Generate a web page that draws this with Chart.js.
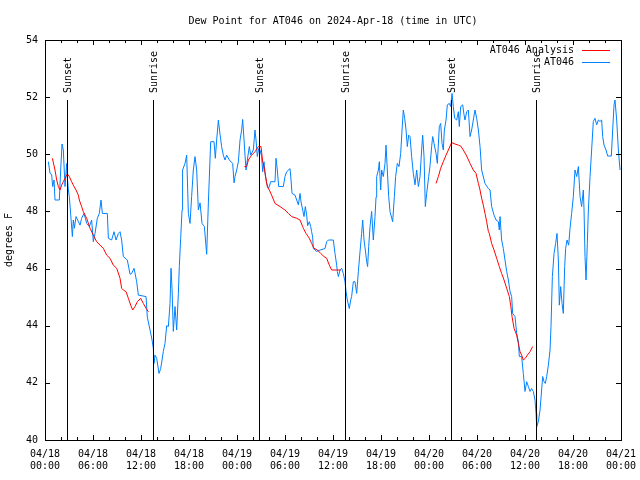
<!DOCTYPE html>
<html><head><meta charset="utf-8">
<script src="https://cdn.jsdelivr.net/npm/chart.js@4/dist/chart.umd.min.js"></script>
<style>html,body{margin:0;padding:0;background:#fff}#wrap{width:640px;height:480px}</style>
</head><body><div id="wrap"><canvas id="c" width="640" height="480"></canvas></div>
<script>
const FONT = "'DejaVu Sans Mono', 'Liberation Mono', monospace";
const chartTitle = 'Dew Point for AT046 on 2024-Apr-18 (time in UTC)';
const yAxisTitle = 'degrees F';
const seriesNames = ['AT046 Analysis', 'AT046'];
const xTickDates = ['04/18','04/18','04/18','04/18','04/19','04/19','04/19','04/19','04/20','04/20','04/20','04/20','04/21'];
const xTickTimes = ['00:00','06:00','12:00','18:00','00:00','06:00','12:00','18:00','00:00','06:00','12:00','18:00','00:00'];
const yMin = 40, yMax = 54, yStep = 2;
const sunHours = [2.8, 13.5, 26.8, 37.5, 50.8, 61.4];
const sunLabels = ['Sunset','Sunrise','Sunset','Sunrise','Sunset','Sunrise'];

// hours since 04/18 00:00 UTC
const obsHours = [0.42,0.63,0.83,0.96,1.13,1.25,1.79,1.96,2.13,2.29,2.5,2.71,2.79,2.92,3.04,3.21,3.42,3.54,3.67,3.88,4.17,4.38,4.58,4.88,5.21,5.54,5.83,6.04,6.25,6.54,6.79,7.0,7.17,7.79,7.92,8.33,8.63,8.88,9.17,9.38,9.58,9.79,10.29,10.63,10.83,11.13,11.46,11.67,12.63,12.79,13.13,13.38,13.54,13.63,13.75,13.96,14.25,14.46,14.63,14.79,15.0,15.21,15.42,15.63,15.75,15.88,16.04,16.25,16.46,16.67,16.79,16.96,17.13,17.2,17.5,17.71,17.92,18.13,18.33,18.54,18.75,18.96,19.17,19.38,19.63,19.92,20.21,20.42,20.71,21.13,21.29,21.46,21.67,21.88,22.08,22.29,22.5,22.71,23.04,23.46,23.63,23.75,23.96,24.17,24.38,24.58,24.71,24.88,25.0,25.13,25.29,25.54,25.71,26.04,26.25,26.38,26.54,26.71,26.88,27.08,27.21,27.38,27.5,27.71,27.92,28.04,28.21,28.75,28.88,29.04,29.21,29.79,30.0,30.21,30.63,30.75,30.88,31.25,31.46,31.67,31.88,32.0,32.21,32.38,32.54,32.71,32.83,33.04,33.21,33.33,33.46,33.54,33.96,34.38,35.0,35.21,35.42,36.04,36.25,36.46,36.54,36.67,36.88,37.08,37.29,37.5,37.63,37.79,38.04,38.21,38.33,38.54,38.75,38.96,39.17,39.38,39.58,39.71,39.88,40.04,40.21,40.33,40.46,40.63,40.83,41.04,41.25,41.38,41.46,41.67,41.79,41.96,42.08,42.29,42.5,42.63,42.79,42.96,43.13,43.46,43.67,43.83,44.04,44.25,44.46,44.63,44.79,44.96,45.13,45.29,45.46,45.63,45.83,46.04,46.25,46.46,46.67,46.88,47.08,47.21,47.38,47.54,47.71,47.96,48.13,48.33,48.46,48.63,48.88,49.04,49.29,49.46,49.63,49.79,49.92,50.13,50.29,50.54,50.71,50.88,51.04,51.21,51.46,51.67,51.79,51.96,52.21,52.38,52.5,52.71,52.92,53.13,53.33,53.54,53.75,53.96,54.17,54.38,54.58,55.0,55.42,55.63,55.83,56.13,56.38,56.67,56.79,56.88,57.08,57.29,57.5,57.71,57.92,58.13,58.33,58.46,58.75,58.96,59.17,59.29,59.58,59.79,60.0,60.21,60.42,60.63,60.83,61.04,61.25,61.38,61.46,61.67,61.88,62.08,62.21,62.38,62.54,62.71,62.92,63.13,63.25,63.42,63.63,63.83,64.0,64.17,64.29,64.46,64.63,64.79,64.96,65.08,65.25,65.46,65.63,65.83,66.04,66.25,66.46,66.67,66.88,67.08,67.29,67.38,67.5,67.63,67.79,67.92,68.13,68.33,68.54,68.75,68.96,69.17,69.38,69.58,69.71,69.88,70.13,70.33,70.79,70.96,71.13,71.25,71.46,71.67,71.88];
const obsValues = [49.74,49.33,49.3,48.87,49.1,48.4,48.4,49.45,50.36,50.15,48.87,49.68,49.2,48.75,48.52,47.9,47.12,47.7,47.41,47.82,47.64,47.52,47.76,47.93,47.58,47.47,47.7,46.94,47.23,47.76,47.93,48.4,47.93,47.93,47.06,47.0,47.29,47.0,47.23,47.29,47.0,46.42,46.3,45.8,45.83,46.01,45.54,45.07,45.02,44.3,43.85,43.5,43.21,42.68,42.97,42.86,42.33,42.5,42.8,43.1,43.38,44.0,43.97,44.78,46.01,45.3,43.8,44.67,43.85,45.13,46.07,47.06,48.05,49.45,49.68,49.97,47.93,47.58,48.52,49.45,49.92,49.45,48.05,48.3,47.58,47.47,46.5,48.3,50.44,50.44,49.86,50.5,51.2,50.7,50.27,49.97,49.8,49.97,49.8,49.68,49.0,49.22,49.45,49.74,50.5,50.85,51.22,50.5,49.97,49.45,49.8,50.27,49.97,50.15,50.85,50.5,49.92,50.2,50.15,49.92,49.39,49.74,49.33,48.98,48.8,48.87,49.04,49.04,49.86,49.45,48.87,48.87,49.22,49.39,49.5,49.1,48.63,48.57,48.4,48.23,48.63,48.34,48.05,47.82,48.17,47.87,47.5,47.64,47.47,47.29,47.1,46.7,46.6,46.65,46.7,46.94,47.0,47.0,46.53,46.12,45.9,45.72,45.95,46.01,45.83,45.54,45.2,44.9,44.6,44.9,45.02,45.54,45.54,45.13,45.9,46.6,47.23,47.7,47.0,46.65,46.24,46.07,46.77,47.47,48.0,47.0,47.82,48.5,49.22,49.45,49.74,48.75,49.45,49.22,49.68,50.32,49.45,48.52,47.99,47.64,48.52,49.22,49.68,49.57,50.03,50.85,51.55,51.26,50.85,50.27,50.67,50.62,49.92,49.33,48.93,49.45,48.87,49.22,50.15,50.67,49.92,48.17,48.63,49.22,49.6,50.27,50.62,50.38,50.03,49.68,50.97,51.08,50.38,50.15,50.85,51.2,51.73,51.78,51.67,52.13,51.67,51.26,51.2,51.49,50.97,51.67,51.73,51.38,51.2,51.49,51.55,50.62,50.85,51.2,51.55,51.26,50.85,50.27,49.45,48.98,48.8,48.75,48.17,47.87,47.7,47.64,47.35,47.82,47.0,46.7,46.3,45.9,45.6,45.2,45.02,44.43,44.32,43.73,43.44,42.92,42.92,42.33,41.7,42.04,41.87,41.7,41.8,41.7,41.4,40.93,40.47,40.64,41.05,41.75,42.22,42.04,41.98,42.22,42.62,43.15,43.97,45.72,46.53,46.88,47.23,46.3,44.72,45.37,44.78,44.43,46.07,46.7,47.0,46.82,47.41,47.93,48.52,49.45,49.22,49.57,48.52,48.17,48.75,48.05,46.42,45.6,46.88,48.05,49.22,50.15,51.15,51.26,51.03,51.2,51.15,51.2,50.62,50.32,50.15,49.94,49.94,50.85,51.73,51.9,51.2,50.15,49.45];

const anaHours = [0.92,1.25,1.46,1.67,1.88,2.08,2.29,2.5,2.79,3.04,3.33,3.54,3.88,4.17,4.29,4.58,4.79,5.21,5.63,6.04,6.46,6.88,7.29,7.71,8.13,8.54,8.96,9.38,9.58,9.79,10.13,10.42,10.71,10.96,11.25,11.54,11.96,12.29,12.63,12.92,18,24.92,25.21,25.42,25.83,26.25,26.67,27.0,27.21,27.38,27.58,27.79,28.04,28.33,28.75,29.38,30.0,30.42,30.83,31.46,31.88,32.21,32.29,32.63,33.04,33.33,33.63,34.04,34.46,34.88,35.21,35.54,35.83,36.46,36.96,42,48.88,49.17,49.46,49.79,50.13,50.42,50.83,51.25,51.67,51.96,52.29,52.71,53.13,53.54,53.88,54.17,54.38,54.58,54.79,55.0,55.21,55.42,55.54,55.83,56.13,56.46,56.79,57.08,57.38,57.71,58.04,58.21,58.38,58.63,58.96,59.17,59.38,59.58,59.79,60.04,60.29,60.63,60.96];
const anaValues = [49.86,49.45,49.1,48.87,48.75,48.92,49.04,49.16,49.31,49.22,49.04,48.92,48.75,48.57,48.4,48.17,47.99,47.76,47.41,47.17,46.94,46.82,46.71,46.47,46.36,46.12,46.01,45.66,45.31,45.25,45.19,44.96,44.72,44.55,44.67,44.84,44.96,44.78,44.61,44.49,null,49.57,49.57,49.8,49.97,50.09,50.27,50.27,49.74,49.57,49.22,48.87,48.75,48.57,48.28,48.17,48.05,47.93,47.82,47.76,47.7,47.47,47.41,47.23,47.06,46.88,46.71,46.65,46.53,46.42,46.36,46.12,45.95,45.95,45.95,null,48.98,49.22,49.51,49.74,49.97,50.15,50.41,50.36,50.32,50.29,50.15,49.94,49.68,49.45,49.33,48.98,48.75,48.46,48.22,47.93,47.64,47.3,47.23,46.88,46.65,46.36,46.07,45.83,45.6,45.31,45.02,44.72,44.32,43.91,43.67,43.38,43.09,42.97,42.8,42.86,42.97,43.09,43.27];

const colors = ['#ff0000', '#0080ff'];

const decor = {
  id: 'decor',
  afterDatasetsDraw(chart) {
    const ctx = chart.ctx, a = chart.chartArea;
    const xs = chart.scales.x, ys = chart.scales.y;
    ctx.save();
    ctx.strokeStyle = '#000'; ctx.lineWidth = 1;
    // sunrise / sunset markers
    ctx.fillStyle = '#000';
    ctx.font = '10px ' + FONT;
    sunHours.forEach((h, i) => {
      const px = Math.round(xs.getPixelForValue(h)) + 0.5;
      const top = Math.round(ys.getPixelForValue(51.9));
      ctx.beginPath(); ctx.moveTo(px, top); ctx.lineTo(px, a.bottom); ctx.stroke();
      ctx.save();
      ctx.translate(px + 1, top - 7);
      ctx.rotate(-Math.PI / 2);
      ctx.textAlign = 'left'; ctx.textBaseline = 'middle';
      ctx.fillText(sunLabels[i], 0, 0);
      ctx.restore();
    });
    // border
    ctx.strokeRect(Math.round(a.left) + 0.5, Math.round(a.top) + 0.5, Math.round(a.right - a.left), Math.round(a.bottom - a.top));
    // x ticks (major every 6h, minor every 2h)
    for (let h = 2; h < 72; h += 2) {
      const px = Math.round(xs.getPixelForValue(h)) + 0.5;
      const len = (h % 6 === 0) ? 5 : 3;
      ctx.beginPath();
      ctx.moveTo(px, a.bottom); ctx.lineTo(px, a.bottom - len);
      ctx.moveTo(px, a.top); ctx.lineTo(px, a.top + len);
      ctx.stroke();
    }
    for (let v = yMin + yStep; v < yMax; v += yStep) {
      const py = Math.round(ys.getPixelForValue(v)) + 0.5;
      ctx.beginPath();
      ctx.moveTo(a.left, py); ctx.lineTo(a.left + 5, py);
      ctx.moveTo(a.right, py); ctx.lineTo(a.right - 5, py);
      ctx.stroke();
    }
    // legend (gnuplot style)
    ctx.textAlign = 'right'; ctx.textBaseline = 'middle';
    seriesNames.forEach((name, i) => {
      const y = a.top + 10 + i * 12;
      ctx.fillStyle = '#000';
      ctx.fillText(name, a.right - 47, y);
      ctx.strokeStyle = colors[i];
      ctx.beginPath(); ctx.moveTo(a.right - 39, y + 0.5); ctx.lineTo(a.right - 11, y + 0.5); ctx.stroke();
    });
    ctx.restore();
  }
};

new Chart(document.getElementById('c'), {
  type: 'line',
  data: {
    datasets: [
      { label: seriesNames[0], data: anaHours.map((h, i) => ({ x: h, y: anaValues[i] })),
        borderColor: colors[0], borderWidth: 1, pointRadius: 0, tension: 0, spanGaps: false, fill: false },
      { label: seriesNames[1], data: obsHours.map((h, i) => ({ x: h, y: obsValues[i] })),
        borderColor: colors[1], borderWidth: 1, pointRadius: 0, tension: 0, fill: false }
    ]
  },
  options: {
    responsive: false, animation: false, devicePixelRatio: 1,
    layout: { padding: { left: 0, right: 19, top: 0, bottom: 0 } },
    plugins: {
      legend: { display: false }, tooltip: { enabled: false },
      title: { display: true, text: chartTitle, color: '#000', fullSize: false,
        font: { family: FONT, size: 10, weight: 'normal' }, padding: { top: 15, bottom: 13 } }
    },
    scales: {
      x: { type: 'linear', min: 0, max: 72,
        grid: { display: false, drawTicks: false }, border: { display: false },
        ticks: { stepSize: 6, autoSkip: false, maxRotation: 0, padding: 8, color: '#000',
          font: { family: FONT, size: 10 },
          callback: (v) => { const i = Math.round(v / 6); return [xTickDates[i], xTickTimes[i]]; } },
        afterFit: (s) => { s.height = 40; s.paddingLeft = 0; s.paddingRight = 0; } },
      y: { min: yMin, max: yMax,
        grid: { display: false, drawTicks: false }, border: { display: false },
        ticks: { stepSize: yStep, padding: 7, color: '#000', font: { family: FONT, size: 10 } },
        title: { display: true, text: yAxisTitle, color: '#000', font: { family: FONT, size: 10 }, padding: { top: 3, bottom: 0 } },
        afterFit: (s) => { s.width = 45; s.paddingTop = 0; s.paddingBottom = 0; } }
    }
  },
  plugins: [decor]
});
</script></body></html>
